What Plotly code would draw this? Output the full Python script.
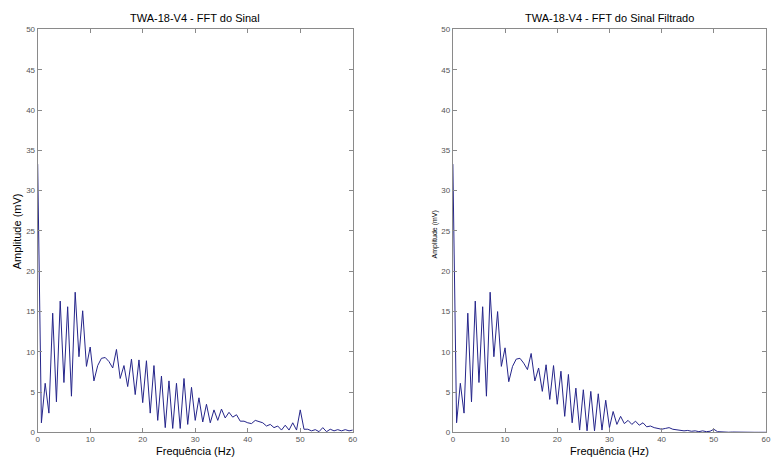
import plotly.graph_objects as go

freq = [0.0, 0.71, 1.43, 2.14, 2.86, 3.57, 4.29, 5.0, 5.71, 6.43,
        7.14, 7.86, 8.57, 9.29, 10.0, 10.71, 11.43, 12.14, 12.86, 13.57,
        14.29, 15.0, 15.71, 16.43, 17.14, 17.86, 18.57, 19.29, 20.0, 20.71,
        21.43, 22.14, 22.86, 23.57, 24.29, 25.0, 25.71, 26.43, 27.14, 27.86,
        28.57, 29.29, 30.0, 30.71, 31.43, 32.14, 32.86, 33.57, 34.29, 35.0,
        35.71, 36.43, 37.14, 37.86, 38.57, 39.29, 40.0, 40.71, 41.43, 42.14,
        42.86, 43.57, 44.29, 45.0, 45.71, 46.43, 47.14, 47.86, 48.57, 49.29,
        50.0, 50.71, 51.43, 52.14, 52.86, 53.57, 54.29, 55.0, 55.71, 56.43,
        57.14, 57.86, 58.57, 59.29, 60.0]

amp_raw = [33.3, 1.2, 6.1, 2.4, 14.8, 3.8, 16.3, 6.2, 15.6, 4.5,
           17.4, 9.4, 15.1, 8.2, 10.6, 6.4, 8.3, 9.2, 9.3, 8.8,
           8.0, 10.3, 6.7, 8.3, 5.7, 9.1, 4.7, 9.0, 3.7, 8.9,
           2.4, 8.3, 1.5, 7.0, 0.6, 6.4, 0.5, 6.1, 0.5, 6.7,
           1.0, 5.6, 1.5, 4.3, 1.3, 3.5, 1.2, 2.8, 1.5, 2.9,
           1.8, 2.5, 1.9, 2.2, 1.4, 1.4, 1.2, 1.1, 1.5, 1.35,
           1.2, 0.8, 1.0, 0.6, 0.8, 0.3, 0.9, 0.3, 1.2, 0.3,
           2.8, 0.4, 0.4, 0.2, 0.35, 0.1, 0.6, 0.1, 0.4, 0.2,
           0.35, 0.2, 0.35, 0.2, 0.3]

amp_filt = [33.3, 1.2, 6.1, 2.4, 14.8, 3.8, 16.3, 6.2, 15.6, 4.5,
            17.4, 9.4, 15.0, 8.2, 10.5, 6.3, 8.2, 9.1, 9.2, 8.6,
            7.8, 9.8, 6.4, 8.0, 5.1, 8.4, 4.1, 8.3, 3.5, 7.6,
            2.0, 7.2, 1.2, 5.5, 0.3, 5.3, 0.2, 5.1, 0.2, 4.8,
            0.3, 4.0, 0.6, 2.6, 1.0, 2.0, 1.1, 1.5, 1.0, 1.4,
            0.9, 1.2, 0.7, 0.8, 0.6, 0.5, 0.4, 0.5, 0.6, 0.4,
            0.35, 0.3, 0.2, 0.25, 0.15, 0.2, 0.1, 0.2, 0.1, 0.15,
            0.4, 0.1, 0.05, 0.05, 0.03, 0.05, 0.03, 0.02, 0.02, 0.02,
            0.02, 0.02, 0.02, 0.02, 0.02]

x_ticks = [0, 10, 20, 30, 40, 50, 60]
y_ticks = [0, 5, 10, 15, 20, 25, 30, 35, 40, 45, 50]

titles = ["TWA-18-V4 - FFT do Sinal", "TWA-18-V4 - FFT do Sinal Filtrado"]
x_title = "Frequência (Hz)"
y_title = "Amplitude (mV)"

W, H = 771, 461
line_color = "#25258a"

fig = go.Figure()
fig.add_trace(go.Scatter(x=freq, y=amp_raw, mode="lines",
                         line=dict(color=line_color, width=1),
                         xaxis="x", yaxis="y", showlegend=False))
fig.add_trace(go.Scatter(x=freq, y=amp_filt, mode="lines",
                         line=dict(color=line_color, width=1),
                         xaxis="x2", yaxis="y2", showlegend=False))

ydom = [1 - 437 / H, 1 - 26 / H]
dom1 = [36 / W, 354 / W]
dom2 = [455 / W, 1.0]

axis_common = dict(showgrid=False, zeroline=False, showline=True,
                   linecolor="#8a8a8a", linewidth=1, mirror="ticks",
                   ticks="inside", ticklen=4, tickcolor="#8a8a8a",
                   tickfont=dict(family="Arial", size=8, color="#555555"))

fig.update_layout(
    width=W, height=H,
    margin=dict(l=0, r=0, t=0, b=0),
    paper_bgcolor="white", plot_bgcolor="white",
    xaxis=dict(domain=dom1, range=[0, 60], tickvals=x_ticks, anchor="y",
               ticklabelstandoff=-1, **axis_common),
    yaxis=dict(domain=ydom, range=[0, 50], tickvals=y_ticks, anchor="x", **axis_common),
    xaxis2=dict(domain=dom2, range=[0, 60], tickvals=x_ticks, anchor="y2",
                ticklabelstandoff=-1, **axis_common),
    yaxis2=dict(domain=ydom, range=[0, 50], tickvals=y_ticks, anchor="x2", **axis_common),
)

ann = []
centers = [(dom1[0] + dom1[1]) / 2, (dom2[0] + dom2[1]) / 2]
for i, c in enumerate(centers):
    ann.append(dict(text=titles[i], x=c, y=1 - 14 / H, xref="paper", yref="paper",
                    showarrow=False, xanchor="center", yanchor="middle",
                    font=dict(family="Arial", size=11, color="black")))
    ann.append(dict(text=x_title, x=c, y=1 - 455.5 / H, xref="paper", yref="paper",
                    showarrow=False, xanchor="center", yanchor="middle",
                    font=dict(family="Arial", size=11, color="black")))
ann.append(dict(text=y_title, x=16 / W, y=1 - 232 / H, xref="paper", yref="paper",
                showarrow=False, textangle=-90, xanchor="center", yanchor="middle",
                font=dict(family="Arial", size=11, color="black")))
ann.append(dict(text=y_title, x=437 / W, y=1 - 235 / H, xref="paper", yref="paper",
                showarrow=False, textangle=-90, xanchor="center", yanchor="middle",
                font=dict(family="Arial", size=7, color="black")))
fig.update_layout(annotations=ann)

fig.write_html("out.html")
